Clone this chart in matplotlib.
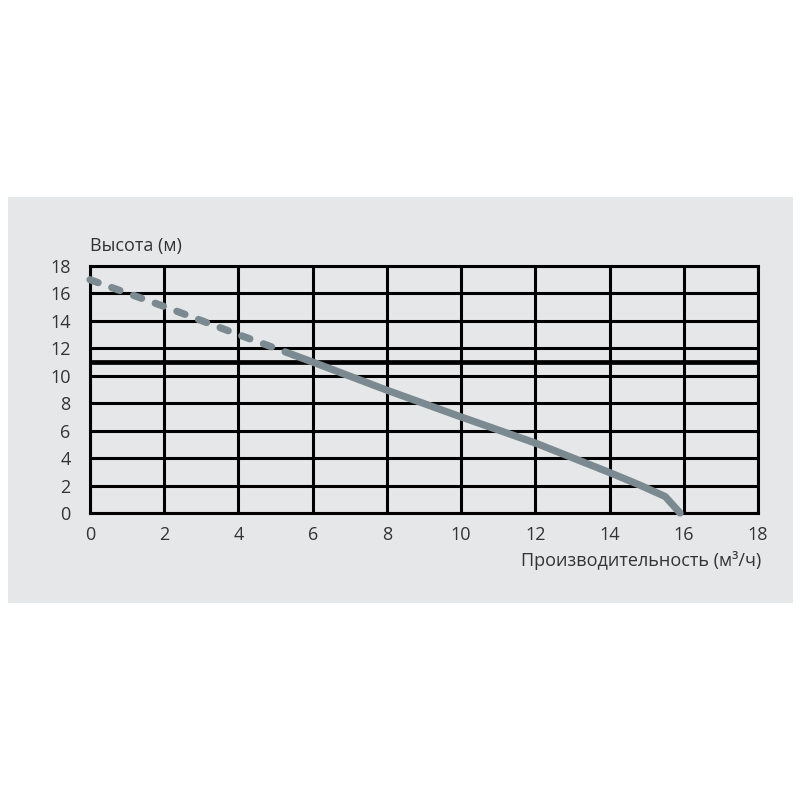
import matplotlib.pyplot as plt
from matplotlib.patches import Rectangle

# Pump curve data
dash_q = [0, 2, 4, 5.5]
dash_h = [17.0, 15.05, 13.0, 11.5]
solid_q = [5.5, 6, 8, 10, 12, 14, 14.8, 15.5, 15.9]
solid_h = [11.5, 11.0, 8.95, 7.0, 5.1, 2.95, 2.05, 1.2, 0.0]

x_ticks = [0, 2, 4, 6, 8, 10, 12, 14, 16, 18]
y_ticks = [0, 2, 4, 6, 8, 10, 12, 14, 16, 18]
mark_level = 11

plt.rcParams['font.family'] = ['Open Sans', 'DejaVu Sans']
text_color = '#333333'
curve_color = '#7b8a91'

fig = plt.figure(figsize=(8, 8), dpi=100)
fig.patch.set_facecolor('white')
# grey panel behind the chart
fig.patches.append(Rectangle((0.01, 0.24625), 0.98125, 0.5075,
                             transform=fig.transFigure, facecolor='#e6e7e8',
                             edgecolor='none', zorder=-1))

ax = fig.add_axes([0.1125, 0.35875, 0.835, 0.30875])
ax.set_zorder(1)
ax.set_facecolor('none')
ax.set_xlim(0, 18)
ax.set_ylim(0, 18)

for x in x_ticks:
    ax.axvline(x, color='black', lw=2.2, zorder=1)
for y in y_ticks:
    ax.axhline(y, color='black', lw=2.2, zorder=1)
ax.axhline(mark_level, color='black', lw=3.4, zorder=1)

for s in ax.spines.values():
    s.set_linewidth(2.2)
    s.set_color('black')

ax.plot(dash_q, dash_h, color=curve_color, lw=5.2, linestyle=(0, (1.2, 2.0)),
        dash_capstyle='round', clip_on=False, zorder=3)
ax.plot(solid_q, solid_h, color=curve_color, lw=5.2, solid_capstyle='round',
        solid_joinstyle='round', clip_on=False, zorder=3)

ax.set_xticks(x_ticks)
ax.set_yticks(y_ticks)
ax.set_yticklabels([str(v) for v in y_ticks], va='center_baseline')
ax.tick_params(length=0, labelsize=13, labelcolor=text_color, pad=9)
ax.tick_params(axis='y', pad=14)

fig.text(0.1125, 0.693, 'Высота (м)', fontsize=13, color=text_color,
         ha='left', va='center')
fig.text(0.952, 0.299, 'Производительность (м³/ч)', fontsize=13,
         color=text_color, ha='right', va='center')

fig.savefig('out.png', dpi=100)
